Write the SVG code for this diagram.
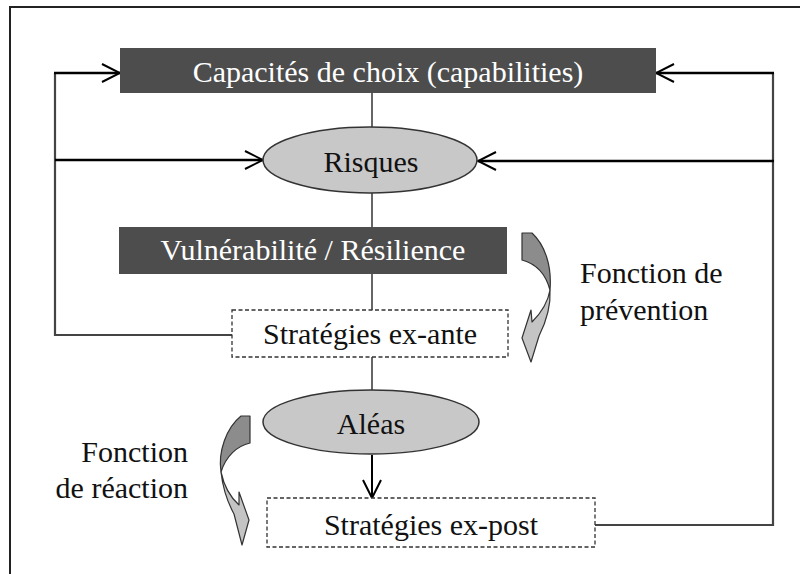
<svg xmlns="http://www.w3.org/2000/svg" width="800" height="574" viewBox="0 0 800 574" font-family="'Liberation Serif', 'Times New Roman', 'DejaVu Serif', serif">
  <defs>
    <marker id="open-arrow" markerUnits="userSpaceOnUse" markerWidth="22" markerHeight="22" viewBox="0 0 22 22" refX="20" refY="11" orient="auto">
      <path d="M2,2 L20,11 L2,20" fill="none" stroke="#000" stroke-width="2"/>
    </marker>
    <style>
      text { font-family: 'Liberation Serif', 'Times New Roman', 'DejaVu Serif', serif; font-size: 30px; }
      .dark rect { fill: #4d4d4d; }
      .dark text { fill: #ffffff; text-anchor: middle; }
      .oval ellipse { fill: #c8c8c8; stroke: #333; stroke-width: 1.5; }
      .oval text, .dash text { fill: #111; text-anchor: middle; }
      .dash rect { fill: #fff; stroke: #333; stroke-width: 1.3; stroke-dasharray: 4 2.5; }
      .label { fill: #111; }
      .spine { stroke: #333; stroke-width: 1.5; fill: none; }
      .loop { stroke: #444; stroke-width: 2.2; fill: none; }
      .arrow { stroke: #000; stroke-width: 2.5; fill: none; marker-end: url(#open-arrow); }
      .turn-dark { fill: #8c8c8c; stroke: #333; stroke-width: 1.2; stroke-linejoin: round; }
      .turn-light { fill: #c4c4c4; stroke: #333; stroke-width: 1.2; stroke-linejoin: round; }
    </style>
  </defs>

  <rect width="800" height="574" fill="#fff"/>

  <!-- frame -->
  <path d="M10,574 L10,7 L800,7" fill="none" stroke="#222" stroke-width="2"/>

  <g id="connectors">
    <!-- central spine -->
    <line class="spine" x1="372" y1="93" x2="372" y2="127"/>
    <line class="spine" x1="372" y1="193" x2="372" y2="227"/>
    <line class="spine" x1="372" y1="274" x2="372" y2="310"/>
    <line class="spine" x1="372" y1="357" x2="372" y2="390"/>
    <line class="arrow" x1="372" y1="455" x2="372" y2="498" style="stroke-width:2"/>
    <!-- left feedback loop from ex-ante strategies -->
    <path class="loop" d="M232,335 L55,335 L55,73"/>
    <line class="arrow" x1="54" y1="73" x2="120" y2="73"/>
    <line class="arrow" x1="55" y1="160" x2="263" y2="160"/>
    <!-- right feedback loop from ex-post strategies -->
    <path class="loop" d="M595,525 L773,525 L773,73"/>
    <line class="arrow" x1="774" y1="73" x2="656" y2="73"/>
    <line class="arrow" x1="774" y1="161" x2="478" y2="161"/>
  </g>

  <g id="capacites" class="dark">
    <rect x="120" y="48" width="536" height="45"/>
    <text x="388" y="82">Capacités de choix (capabilities)</text>
  </g>

  <g id="risques" class="oval">
    <ellipse cx="370" cy="160" rx="107" ry="33"/>
    <text x="371" y="172">Risques</text>
  </g>

  <g id="vulnerabilite" class="dark">
    <rect x="119" y="227" width="388" height="47"/>
    <text x="313" y="260">Vulnérabilité / Résilience</text>
  </g>

  <g id="ex-ante" class="dash">
    <rect x="232" y="310" width="276" height="47"/>
    <text x="370" y="344">Stratégies ex-ante</text>
  </g>

  <g id="aleas" class="oval">
    <ellipse cx="371" cy="422" rx="108" ry="32"/>
    <text x="371" y="434">Aléas</text>
  </g>

  <g id="ex-post" class="dash">
    <rect x="267" y="498" width="328" height="49"/>
    <text x="431" y="535">Stratégies ex-post</text>
  </g>

  <g id="prevention">
    <path class="turn-dark" d="M522,233 L532,233 C545,245 552,266 550,290 C546,275 537,264 522,260 Z"/>
    <path class="turn-light" d="M550,290 C551,307 546,322 539,336 L531,362 L522,338 L531,310 L532,322 C541,313 548,302 550,290 Z"/>
    <text class="label" x="580" y="283">Fonction de</text>
    <text class="label" x="580" y="320">prévention</text>
  </g>

  <g id="reaction">
    <path class="turn-dark" d="M241,416 L250,416 L250,443 C237,446 226,456 221,472 C218,452 226,428 241,416 Z"/>
    <path class="turn-light" d="M221,472 C223,490 228,503 234,514 L242,545 L249,520 L239,492 L239,505 C230,497 224,486 221,472 Z"/>
    <text class="label" x="188" y="462" text-anchor="end">Fonction</text>
    <text class="label" x="188" y="498" text-anchor="end">de réaction</text>
  </g>
</svg>
